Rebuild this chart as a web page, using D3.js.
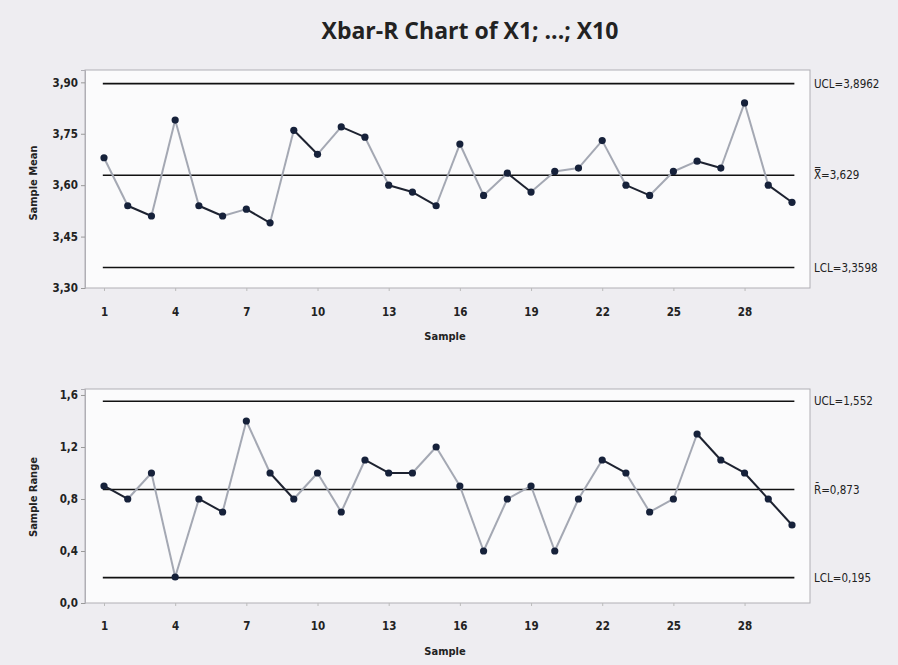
<!DOCTYPE html>
<html lang="en">
<head>
<meta charset="utf-8" />
<script src="https://d3js.org/d3.v7.min.js"></script>
<style>
  body { margin: 0; background: #eeedf1; }
  svg text { font-family: "Liberation Sans Narrow", "Arial Narrow", "DejaVu Sans Condensed", sans-serif; fill: #222; }
  .title { font-family: "Open Sans", sans-serif; font-weight: 700; font-size: 23px; }
  .tick text { font-size: 11.5px; font-weight: bold; }
  .axis-title { font-size: 11px; font-weight: bold; }
  .limit-label { font-size: 11.5px; }
</style>
</head>
<body>
<svg width="898" height="665"></svg>
<script>
// sample numbers
var samples = d3.range(1, 31);
var xTicks = [1, 4, 7, 10, 13, 16, 19, 22, 25, 28];

// subgroup means
var means = [3.68, 3.54, 3.51, 3.79, 3.54, 3.51, 3.53, 3.49, 3.76, 3.69,
             3.77, 3.74, 3.60, 3.58, 3.54, 3.72, 3.57, 3.635, 3.58, 3.64,
             3.65, 3.73, 3.60, 3.57, 3.64, 3.67, 3.65, 3.84, 3.60, 3.55];
// subgroup ranges
var ranges = [0.9, 0.8, 1.0, 0.2, 0.8, 0.7, 1.4, 1.0, 0.8, 1.0,
              0.7, 1.1, 1.0, 1.0, 1.2, 0.9, 0.4, 0.8, 0.9, 0.4,
              0.8, 1.1, 1.0, 0.7, 0.8, 1.3, 1.1, 1.0, 0.8, 0.6];

var meanTicks = [3.30, 3.45, 3.60, 3.75, 3.90];
var rangeTicks = [0.0, 0.4, 0.8, 1.2, 1.6];

var meanLimits = [
  { value: 3.8962, label: "UCL=3,8962" },
  { value: 3.629, label: "X\u033F=3,629" },
  { value: 3.3598, label: "LCL=3,3598" }
];
var rangeLimits = [
  { value: 1.552, label: "UCL=1,552" },
  { value: 0.873, label: "R\u0304=0,873" },
  { value: 0.195, label: "LCL=0,195" }
];

var svg = d3.select("svg");
var comma = function(f) { return function(d) { return d3.format(f)(d).replace(".", ","); }; };

svg.append("text")
  .attr("class", "title")
  .attr("x", 470)
  .attr("y", 39)
  .attr("text-anchor", "middle")
  .text("Xbar-R Chart of X1; ...; X10");

function panel(opts) {
  var g = svg.append("g");
  var x = d3.scaleLinear().domain([1, 30]).range([104, 792]);
  var y = d3.scaleLinear().domain(opts.domain).range([opts.bottom, opts.top]);

  g.append("rect")
    .attr("x", 85).attr("y", opts.top)
    .attr("width", 810 - 85).attr("height", opts.bottom - opts.top)
    .attr("fill", "#fbfbfc")
    .attr("stroke", "#b0afb5");

  var yAxis = g.append("g")
    .attr("transform", "translate(85,0)")
    .call(d3.axisLeft(y).tickValues(opts.ticks).tickSize(4).tickPadding(3).tickFormat(comma(opts.fmt)));
  yAxis.select(".domain").attr("stroke", "#b0afb5");
  yAxis.selectAll(".tick line").attr("stroke", "#999");

  var xAxis = g.append("g")
    .attr("transform", "translate(0," + opts.bottom + ")")
    .call(d3.axisBottom(x).tickValues(xTicks).tickSize(3).tickPadding(opts.xpad));
  xAxis.select(".domain").remove();
  xAxis.selectAll(".tick line").attr("stroke", "#bbb");

  g.append("text")
    .attr("class", "axis-title")
    .attr("x", 445)
    .attr("y", opts.bottom + 52)
    .attr("text-anchor", "middle")
    .text("Sample");

  g.append("text")
    .attr("class", "axis-title")
    .attr("transform", "translate(37," + opts.ytitleY + ") rotate(-90)")
    .attr("text-anchor", "middle")
    .text(opts.ytitle);

  // control limits
  g.selectAll(".limit")
    .data(opts.limits)
    .enter()
    .append("line")
    .attr("x1", x(0.95)).attr("x2", x(30.1))
    .attr("y1", d => y(d.value)).attr("y2", d => y(d.value))
    .attr("stroke", "#111")
    .attr("stroke-width", 1.6);

  g.selectAll(".limit-label")
    .data(opts.limits)
    .enter()
    .append("text")
    .attr("class", "limit-label")
    .attr("x", 814)
    .attr("y", d => y(d.value))
    .attr("dy", "0.35em")
    .text(d => d.label);

  // connecting segments
  var pts = opts.values.map((v, i) => [x(samples[i]), y(v)]);
  var segs = d3.pairs(pts);
  g.selectAll(".seg")
    .data(segs)
    .enter()
    .append("line")
    .attr("x1", d => d[0][0]).attr("y1", d => d[0][1])
    .attr("x2", d => d[1][0]).attr("y2", d => d[1][1])
    .attr("stroke", function(d) {
      var dy = d[1][1] - d[0][1], dx = d[1][0] - d[0][0];
      return dy >= 0 && dy / dx < 1.12 ? "#1d2230" : "#a4a8b3";
    })
    .attr("stroke-width", 2);

  g.selectAll(".pt")
    .data(pts)
    .enter()
    .append("circle")
    .attr("cx", d => d[0]).attr("cy", d => d[1])
    .attr("r", 3.6)
    .attr("fill", "#16213a");
}

panel({
  top: 70, bottom: 288,
  domain: [3.30, 3.936],
  ticks: meanTicks, fmt: ".2f",
  limits: meanLimits, values: means,
  ytitle: "Sample Mean", ytitleY: 183, xpad: 17
});

panel({
  top: 389, bottom: 603,
  domain: [0, 1.646],
  ticks: rangeTicks, fmt: ".1f",
  limits: rangeLimits, values: ranges,
  ytitle: "Sample Range", ytitleY: 497, xpad: 16
});
</script>
</body>
</html>
